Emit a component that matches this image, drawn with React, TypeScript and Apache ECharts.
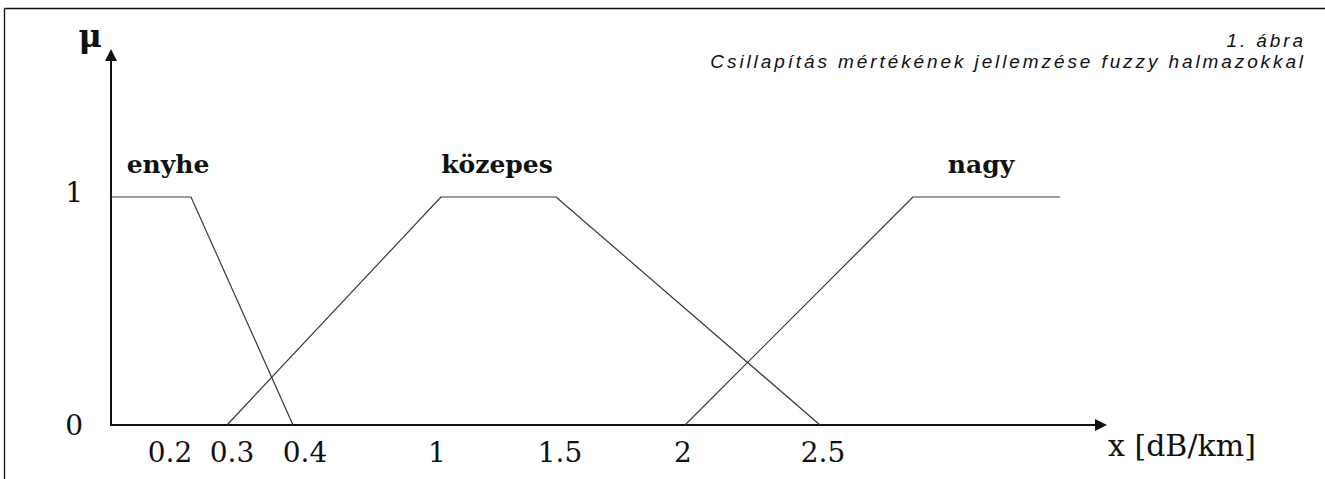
import React, { useEffect, useRef } from 'react';
import * as echarts from 'echarts';

const SERIF = '"DejaVu Serif", "Liberation Serif", serif';
const INK = '#111111';
const CURVE = '#3a3a3a';

// The figure is a schematic, not drawn to scale: the x axis is measured in
// drawing units along the axis (0 = origin, X_MAX = end of the axis).
const X_MAX = 990;
const Y_MAX = 1.6228;

// x tick labels (dB/km) and where they sit along the schematic axis
const tickLabels = ['0.2', '0.3', '0.4', '1', '1.5', '2', '2.5'];
const tickPositions = [59, 121, 194, 326, 449, 572, 712];
const yTickValues = [0, 1];

// Fuzzy sets: breakpoints (schematic x) and membership values μ
const setNames = ['enyhe', 'közepes', 'nagy'];
const enyheX = [0, 80, 182];
const enyheMu = [1, 1, 0];
const kozepesX = [116, 330, 445, 709];
const kozepesMu = [0, 1, 1, 0];
const nagyX = [574, 802, 949];
const nagyMu = [0, 1, 1];
// where each set's name is centred, above μ = 1
const nameAnchorX = [57, 386, 870];

const captionLines = ['1. ábra', 'Csillapítás mértékének jellemzése fuzzy halmazokkal'];

const zip = (xs: number[], ys: number[]) => xs.map((x, i) => [x, ys[i]]);

export default function App() {
  const ref = useRef<HTMLDivElement>(null);

  useEffect(() => {
    if (!ref.current) return;
    const chart = echarts.init(ref.current, null, { renderer: 'svg' });

    const seriesData = [zip(enyheX, enyheMu), zip(kozepesX, kozepesMu), zip(nagyX, nagyMu)];

    const option: any = {
      animation: false,
      backgroundColor: '#ffffff',
      grid: { left: 111, right: 224, top: 55, bottom: 54, containLabel: false },
      xAxis: {
        type: 'value',
        min: 0,
        max: X_MAX,
        name: 'x [dB/km]',
        nameLocation: 'end',
        nameGap: 7,
        nameTextStyle: {
          fontFamily: SERIF,
          fontSize: 30,
          color: INK,
          align: 'left',
          verticalAlign: 'top',
          lineHeight: 41,
        },
        axisLine: {
          show: true,
          onZero: false,
          symbol: ['none', 'triangle'],
          symbolSize: [12, 12],
          lineStyle: { color: INK, width: 2 },
        },
        axisTick: { show: false },
        splitLine: { show: false },
        axisLabel: {
          customValues: tickPositions,
          formatter: (v: number) => {
            const i = tickPositions.indexOf(v);
            return i >= 0 ? tickLabels[i] : '';
          },
          fontFamily: SERIF,
          fontSize: 28,
          color: INK,
          margin: 13,
        },
      },
      yAxis: {
        type: 'value',
        min: 0,
        max: Y_MAX,
        name: 'μ',
        nameLocation: 'end',
        nameGap: 3,
        nameTextStyle: {
          fontFamily: SERIF,
          fontSize: 32,
          fontWeight: 'bold',
          color: INK,
          align: 'right',
          verticalAlign: 'bottom',
          padding: [0, 9, 0, 0],
        },
        axisLine: {
          show: true,
          symbol: ['none', 'triangle'],
          symbolSize: [12, 12],
          lineStyle: { color: INK, width: 2 },
        },
        axisTick: { show: false },
        splitLine: { show: false },
        axisLabel: {
          customValues: yTickValues,
          formatter: (v: number) => {
            if (v === 1) return '{up|1}';
            return yTickValues.indexOf(v) >= 0 ? String(v) : '';
          },
          rich: {
            up: { fontFamily: SERIF, fontSize: 28, color: INK, padding: [0, 0, 9, 0] },
          },
          fontFamily: SERIF,
          fontSize: 28,
          color: INK,
          margin: 28,
        },
      },
      series: setNames.map((name, i) => ({
        name,
        type: 'line',
        data: seriesData[i],
        symbol: 'none',
        silent: true,
        lineStyle: { color: CURVE, width: 1.2 },
        markPoint: {
          symbol: 'circle',
          symbolSize: 1,
          itemStyle: { color: 'rgba(0,0,0,0)' },
          label: {
            show: true,
            position: 'top',
            distance: 19,
            formatter: '{b}',
            fontFamily: SERIF,
            fontWeight: 'bold',
            fontSize: 25,
            color: INK,
          },
          data: [{ name, coord: [nameAnchorX[i], 1] }],
        },
      })),
      graphic: [
        {
          type: 'line',
          silent: true,
          shape: { x1: 4.5, y1: 8.5, x2: 1325, y2: 8.5 },
          style: { stroke: INK, lineWidth: 1.3 },
        },
        {
          type: 'line',
          silent: true,
          shape: { x1: 4.5, y1: 8.5, x2: 4.5, y2: 479 },
          style: { stroke: INK, lineWidth: 1.3 },
        },
        {
          type: 'text',
          silent: true,
          x: 1306,
          y: 40,
          style: {
            text: captionLines[0],
            font: 'italic 19px "Liberation Sans"',
            fill: INK,
            textAlign: 'right',
            align: 'right',
            textVerticalAlign: 'middle',
            verticalAlign: 'middle',
          },
        },
        {
          type: 'text',
          silent: true,
          x: 1306,
          y: 61,
          style: {
            text: captionLines[1],
            font: 'italic 19px "Liberation Sans"',
            fill: INK,
            textAlign: 'right',
            align: 'right',
            textVerticalAlign: 'middle',
            verticalAlign: 'middle',
          },
        },
      ],
    };

    chart.setOption(option);
    return () => chart.dispose();
  }, []);

  return (
    <>
      <style>{`#fuzzy-chart text[style*="italic"]{letter-spacing:2.9px;}`}</style>
      <div
        id="fuzzy-chart"
        ref={ref}
        style={{ position: 'fixed', left: 0, top: 0, width: 1325, height: 479, background: '#fff' }}
      />
    </>
  );
}
